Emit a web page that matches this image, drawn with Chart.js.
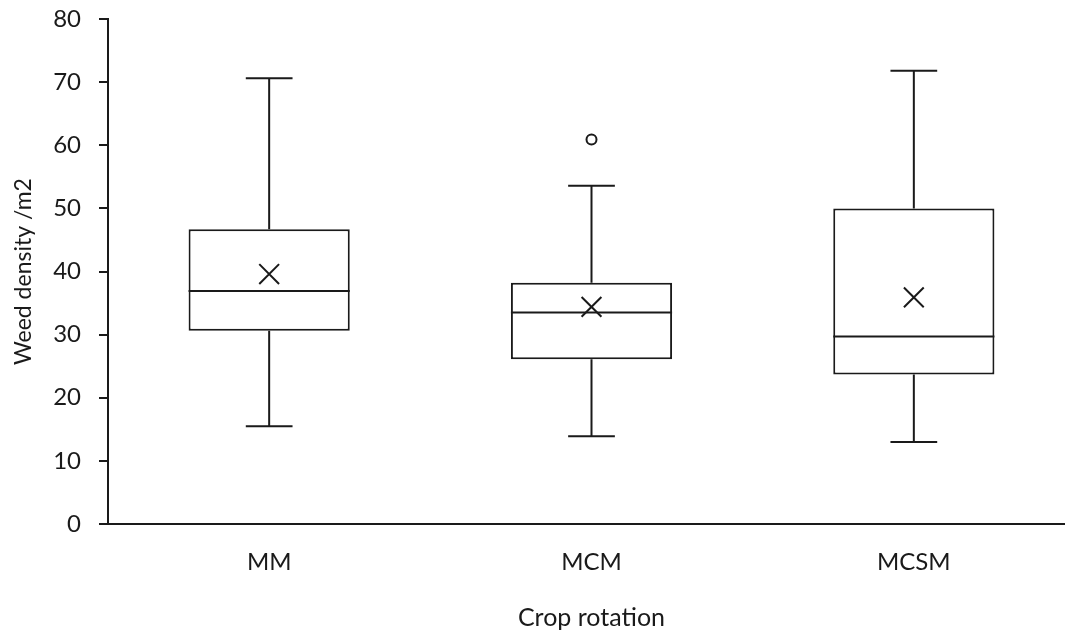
<!DOCTYPE html>
<html>
<head>
<meta charset="utf-8">
<script src="https://cdn.jsdelivr.net/npm/chart.js@4/dist/chart.umd.min.js"></script>
<style>
  html, body { margin: 0; padding: 0; background: #fff; overflow: hidden; }
</style>
</head>
<body>
<canvas id="boxChart" width="1091" height="634"></canvas>
<script>
const categories = ['MM', 'MCM', 'MCSM'];
const whiskerMin = [15.5, 13.9, 13.0];
const q1 = [30.6, 26.1, 23.7];
const median = [36.9, 33.5, 29.7];
const q3 = [46.7, 38.2, 50.0];
const whiskerMax = [70.6, 53.6, 71.8];
const means = [39.6, 34.4, 35.9];
const outliers = [null, 60.9, null];
const yTicks = [0, 10, 20, 30, 40, 50, 60, 70, 80];

const ink = '#1a1a1a';
const fontName = 'Lato, "Open Sans", sans-serif';

// whiskers and median line, drawn right after the boxes
const boxLines = {
    id: 'boxLines',
    afterDatasetDraw(chart, args) {
        if (args.index !== 0) return;
        const ctx = chart.ctx;
        const x = chart.scales.x;
        const y = chart.scales.y;
        const bars = args.meta.data;
        ctx.save();
        ctx.strokeStyle = ink;
        ctx.lineWidth = 2;
        categories.forEach((c, i) => {
            const cx = x.getPixelForValue(i);
            const half = bars[i].width / 2;
            const cap = half * 0.29;
            ctx.beginPath();
            // upper whisker
            ctx.moveTo(cx, y.getPixelForValue(q3[i]));
            ctx.lineTo(cx, y.getPixelForValue(whiskerMax[i]));
            ctx.moveTo(cx - cap, y.getPixelForValue(whiskerMax[i]));
            ctx.lineTo(cx + cap, y.getPixelForValue(whiskerMax[i]));
            // lower whisker
            ctx.moveTo(cx, y.getPixelForValue(q1[i]));
            ctx.lineTo(cx, y.getPixelForValue(whiskerMin[i]));
            ctx.moveTo(cx - cap, y.getPixelForValue(whiskerMin[i]));
            ctx.lineTo(cx + cap, y.getPixelForValue(whiskerMin[i]));
            // median
            ctx.moveTo(cx - half, y.getPixelForValue(median[i]));
            ctx.lineTo(cx + half, y.getPixelForValue(median[i]));
            ctx.stroke();
        });
        ctx.restore();
    }
};

const ctx = document.getElementById('boxChart').getContext('2d');

const boxChart = new Chart(ctx, {
    type: 'bar',
    data: {
        labels: categories,
        datasets: [{
            label: 'Box',
            data: q1.map((v, i) => [v, q3[i]]),
            backgroundColor: '#ffffff',
            borderColor: ink,
            borderWidth: 2,
            borderSkipped: false,
            barPercentage: 0.5,
            categoryPercentage: 1.0,
            order: 2
        }, {
            type: 'line',
            label: 'Mean',
            data: means,
            showLine: false,
            pointStyle: 'crossRot',
            pointRadius: 14,
            pointBorderWidth: 2,
            pointBorderColor: ink,
            order: 1
        }, {
            type: 'line',
            label: 'Outlier',
            data: outliers,
            showLine: false,
            pointStyle: 'circle',
            pointRadius: 5,
            pointBorderWidth: 2,
            pointBorderColor: ink,
            pointBackgroundColor: '#ffffff',
            order: 1
        }]
    },
    options: {
        responsive: false,
        animation: false,
        layout: {
            padding: { top: 19, left: 0, right: 0, bottom: 0 }
        },
        scales: {
            x: {
                afterFit: s => {
                    s.height = 110;
                    s.paddingLeft = 0;
                    s.paddingRight = 0;
                },
                ticks: {
                    color: ink,
                    padding: 24,
                    font: { family: fontName, size: 24 }
                },
                grid: {
                    drawOnChartArea: false,
                    drawTicks: false
                },
                border: { display: true, color: ink, width: 2 },
                title: {
                    display: true,
                    text: 'Crop rotation',
                    color: ink,
                    padding: { top: 0, bottom: 1 },
                    font: { family: fontName, size: 25 }
                }
            },
            y: {
                min: 0,
                max: 80,
                afterFit: s => {
                    s.width = 108;
                    s.paddingTop = 0;
                    s.paddingBottom = 0;
                },
                afterBuildTicks: s => { s.ticks = yTicks.map(v => ({ value: v })); },
                ticks: {
                    color: ink,
                    padding: 18,
                    font: { family: fontName, size: 24 }
                },
                grid: {
                    drawOnChartArea: false,
                    drawTicks: true,
                    tickLength: 9,
                    lineWidth: 2,
                    color: ink
                },
                border: { display: true, color: ink, width: 2 },
                title: {
                    display: true,
                    text: 'Weed density /m2',
                    color: ink,
                    padding: { top: 10, bottom: 0 },
                    font: { family: fontName, size: 23 }
                }
            }
        },
        plugins: {
            legend: { display: false },
            tooltip: { enabled: false }
        }
    },
    plugins: [boxLines]
});
</script>
</body>
</html>
